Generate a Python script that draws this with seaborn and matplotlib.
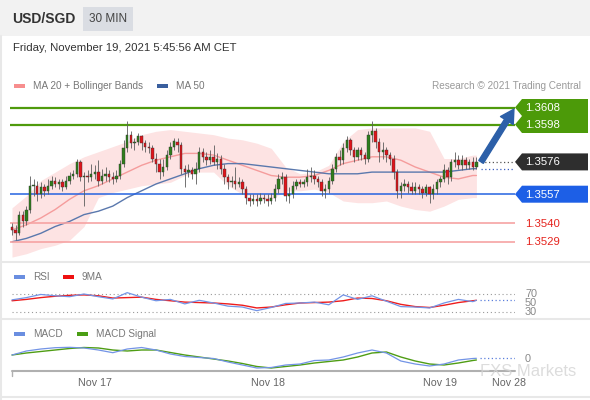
import numpy as np
import pandas as pd
import matplotlib
matplotlib.use("Agg")
import matplotlib.pyplot as plt
import seaborn as sns
from matplotlib.patches import Rectangle, Polygon

# --- candle data (30 min USD/SGD), Nov 16 12:30 -> Nov 19 05:00 ---
first_open = 1.3538
closes = [1.3536, 1.3534, 1.3545, 1.3541, 1.3548, 1.3562, 1.3562, 1.3557, 1.3561, 1.3559,
          1.3562, 1.3565, 1.3563, 1.3564, 1.3561, 1.3565, 1.3568, 1.3569, 1.3576, 1.3567,
          1.3568, 1.3567, 1.3569, 1.3570, 1.3565, 1.3568, 1.3569, 1.3567, 1.3566, 1.3568,
          1.3575, 1.3584, 1.3592, 1.3587, 1.3588, 1.3591, 1.3587, 1.3585, 1.3584, 1.3578,
          1.3575, 1.3570, 1.3573, 1.3580, 1.3585, 1.3588, 1.3586, 1.3572, 1.3570, 1.3571,
          1.3569, 1.3572, 1.3582, 1.3579, 1.3577, 1.3579, 1.3576, 1.3578, 1.3572, 1.3567,
          1.3564, 1.3565, 1.3563, 1.3564, 1.3560, 1.3555, 1.3553, 1.3554, 1.3553, 1.3555,
          1.3554, 1.3553, 1.3555, 1.3560, 1.3566, 1.3567, 1.3556, 1.3557, 1.3562, 1.3564,
          1.3563, 1.3564, 1.3567, 1.3568, 1.3566, 1.3564, 1.3559, 1.3560, 1.3565, 1.3572,
          1.3579, 1.3577, 1.3584, 1.3589, 1.3583, 1.3579, 1.3583, 1.3580, 1.3578, 1.3592,
          1.3594, 1.3588, 1.3582, 1.3583, 1.3580, 1.3578, 1.3570, 1.3559, 1.3562, 1.3563,
          1.3561, 1.3559, 1.3561, 1.3560, 1.3558, 1.3561, 1.3557, 1.3560, 1.3564, 1.3566,
          1.3571, 1.3567, 1.3576, 1.3577, 1.3574, 1.3577, 1.3574, 1.3576, 1.3573, 1.3576]
highs = [1.3540, 1.3539, 1.3547, 1.3547, 1.3550, 1.3568, 1.3566, 1.3565, 1.3564, 1.3563,
         1.3566, 1.3568, 1.3567, 1.3566, 1.3566, 1.3568, 1.3570, 1.3571, 1.3578, 1.3577,
         1.3570, 1.3571, 1.3575, 1.3574, 1.3577, 1.3572, 1.3573, 1.3571, 1.3570, 1.3571,
         1.3577, 1.3589, 1.3600, 1.3594, 1.3590, 1.3593, 1.3592, 1.3589, 1.3588, 1.3586,
         1.3581, 1.3578, 1.3578, 1.3583, 1.3588, 1.3590, 1.3590, 1.3588, 1.3574, 1.3575,
         1.3573, 1.3576, 1.3585, 1.3584, 1.3582, 1.3583, 1.3586, 1.3581, 1.3580, 1.3575,
         1.3569, 1.3568, 1.3573, 1.3567, 1.3566, 1.3562, 1.3557, 1.3557, 1.3557, 1.3558,
         1.3557, 1.3557, 1.3558, 1.3563, 1.3569, 1.3570, 1.3569, 1.3561, 1.3565, 1.3566,
         1.3566, 1.3566, 1.3572, 1.3573, 1.3571, 1.3568, 1.3566, 1.3563, 1.3567, 1.3575,
         1.3581, 1.3583, 1.3587, 1.3591, 1.3590, 1.3585, 1.3585, 1.3585, 1.3582, 1.3594,
         1.3600, 1.3596, 1.3590, 1.3588, 1.3585, 1.3582, 1.3580, 1.3572, 1.3564, 1.3566,
         1.3565, 1.3564, 1.3564, 1.3563, 1.3562, 1.3563, 1.3562, 1.3563, 1.3566, 1.3568,
         1.3575, 1.3573, 1.3578, 1.3582, 1.3580, 1.3580, 1.3579, 1.3578, 1.3579, 1.3579]
lows = [1.3533, 1.3530, 1.3533, 1.3538, 1.3539, 1.3546, 1.3556, 1.3553, 1.3555, 1.3556,
        1.3557, 1.3560, 1.3561, 1.3560, 1.3559, 1.3560, 1.3563, 1.3566, 1.3567, 1.3565,
        1.3550, 1.3564, 1.3565, 1.3566, 1.3562, 1.3563, 1.3565, 1.3564, 1.3563, 1.3564,
        1.3566, 1.3573, 1.3582, 1.3584, 1.3583, 1.3586, 1.3583, 1.3582, 1.3581, 1.3576,
        1.3570, 1.3566, 1.3568, 1.3571, 1.3578, 1.3583, 1.3582, 1.3569, 1.3561, 1.3567,
        1.3566, 1.3563, 1.3570, 1.3576, 1.3574, 1.3575, 1.3574, 1.3572, 1.3569, 1.3563,
        1.3560, 1.3561, 1.3560, 1.3561, 1.3557, 1.3551, 1.3550, 1.3551, 1.3550, 1.3551,
        1.3552, 1.3550, 1.3551, 1.3553, 1.3558, 1.3563, 1.3553, 1.3552, 1.3555, 1.3560,
        1.3561, 1.3561, 1.3562, 1.3564, 1.3563, 1.3561, 1.3556, 1.3555, 1.3558, 1.3563,
        1.3570, 1.3574, 1.3575, 1.3582, 1.3580, 1.3576, 1.3577, 1.3577, 1.3575, 1.3576,
        1.3588, 1.3584, 1.3576, 1.3578, 1.3576, 1.3574, 1.3566, 1.3555, 1.3555, 1.3559,
        1.3558, 1.3557, 1.3557, 1.3557, 1.3555, 1.3556, 1.3552, 1.3554, 1.3557, 1.3561,
        1.3564, 1.3563, 1.3565, 1.3573, 1.3572, 1.3571, 1.3572, 1.3572, 1.3571, 1.3572]

# --- indicators, read every 4th candle (plus the last one) ---
ind_idx = list(range(0, 129, 4)) + [129]
ma20 = [1.3536, 1.3539, 1.3543, 1.3548, 1.3554, 1.3559, 1.3562, 1.3566, 1.3570, 1.3574,
        1.3577, 1.3579, 1.3581, 1.3581, 1.3580, 1.3577, 1.3574, 1.3571, 1.3568, 1.3567,
        1.3567, 1.3568, 1.3571, 1.3575, 1.3577, 1.3579, 1.3579, 1.3577, 1.3573, 1.3570,
        1.3567, 1.3566, 1.3568, 1.3568]
bb_upper = [1.3549, 1.3556, 1.3565, 1.3570, 1.3575, 1.3579, 1.3582, 1.3585, 1.3588, 1.3592,
            1.3594, 1.3595, 1.3594, 1.3593, 1.3592, 1.3590, 1.3589, 1.3587, 1.3584, 1.3573,
            1.3569, 1.3570, 1.3574, 1.3588, 1.3595, 1.3596, 1.3596, 1.3596, 1.3596, 1.3594,
            1.3578, 1.3578, 1.3580, 1.3580]
bb_lower = [1.3520, 1.3522, 1.3525, 1.3527, 1.3530, 1.3538, 1.3555, 1.3558, 1.3560, 1.3562,
            1.3563, 1.3564, 1.3568, 1.3570, 1.3570, 1.3562, 1.3557, 1.3555, 1.3554, 1.3559,
            1.3559, 1.3560, 1.3558, 1.3553, 1.3552, 1.3552, 1.3553, 1.3550, 1.3548, 1.3547,
            1.3550, 1.3554, 1.3555, 1.3555]
ma50 = [1.3529, 1.3531, 1.3534, 1.3538, 1.3541, 1.3545, 1.3547, 1.3550, 1.3555, 1.3559,
        1.3563, 1.3566, 1.3569, 1.3572, 1.3574, 1.3575, 1.3575, 1.3574, 1.3573, 1.3572,
        1.3571, 1.3570, 1.3569, 1.3569, 1.3569, 1.3570, 1.3570, 1.3570, 1.3570, 1.3570,
        1.3570, 1.3571, 1.3572, 1.3572]
rsi = [57, 62, 69, 66, 64, 70, 64, 59, 73, 63, 55, 58, 48, 56, 50, 43, 41, 33, 40, 49,
       50, 52, 46, 68, 58, 66, 54, 42, 41, 39, 50, 58, 53, 56]
rsi_ma9 = [55, 58, 62, 65, 67, 68, 66, 61, 62, 63, 58, 55, 52, 51, 50, 48, 45, 39, 41, 46,
           50, 51, 52, 55, 61, 60, 55, 47, 42, 40, 45, 51, 55, 56]
macd = [0.40, 0.80, 1.00, 1.13, 1.17, 1.10, 0.90, 0.63, 1.00, 1.15, 0.90, 0.50, 0.25, 0.15,
        0.05, -0.30, -0.60, -0.90, -0.85, -0.60, -0.50, -0.15, -0.10, 0.20, 0.60, 0.90,
        0.60, -0.20, -0.50, -0.70, -0.50, -0.10, 0.05, 0.07]
macd_signal = [0.40, 0.60, 0.75, 0.90, 1.05, 1.15, 1.10, 0.90, 0.80, 0.90, 0.90, 0.65, 0.40,
               0.20, 0.00, -0.20, -0.45, -0.75, -0.90, -0.75, -0.60, -0.40, -0.25, -0.10,
               0.20, 0.60, 0.70, 0.20, -0.20, -0.50, -0.60, -0.40, -0.15, -0.10]

# key levels
resist = [1.3608, 1.3598]
pivot = 1.3557
supports = [1.3540, 1.3529]
last_price = 1.3576
target = 1.3607

tick_pos = [23, 71, 119, 138]
tick_labels = ["Nov 17", "Nov 18", "Nov 19", "Nov 28"]

sns.set_theme(style="white")
plt.rcParams["font.family"] = ["Liberation Sans", "DejaVu Sans"]

W, H = 590, 400
fig = plt.figure(figsize=(W / 100, H / 100), dpi=100)
fig.patch.set_facecolor("white")


def px_axes(left, top, right, bottom, z=1):
    a = fig.add_axes([left / W, 1 - bottom / H, (right - left) / W, (bottom - top) / H], zorder=z)
    a.set_facecolor("none")
    return a


bg = px_axes(0, 0, W, H, z=0)
bg.set_xlim(0, W); bg.set_ylim(H, 0); bg.axis("off")
bg.add_patch(Rectangle((0, 0), W, 36, color="#f2f2f2", lw=0))
bg.add_patch(Rectangle((83, 7), 50, 24, color="#dadde3", lw=0))
for yy in (262, 319, 397):
    bg.plot([0, W], [yy, yy], color="#e8e8e8", lw=1.5)
bg.plot([1, 1], [36, H], color="#e8e8e8", lw=1.5)

x0, x1 = (10 - 12) / 3.6, (515 - 12) / 3.6
idx = np.arange(len(closes))
opens = [first_open] + closes[:-1]

# ---------------- price panel ----------------
ax = px_axes(10, 92, 515, 261)
ax.set_xlim(x0, x1)
ax.set_ylim(1.3608 - 153.5 / 17000, 1.3608 + 15.5 / 17000)
ax.axis("off")

ax.fill_between(ind_idx, bb_lower, bb_upper, color="#fde3e3", lw=0, zorder=1)
sns.lineplot(x=ind_idx, y=ma20, ax=ax, color="#f59c9c", linewidth=1, legend=False, zorder=2)
sns.lineplot(x=ind_idx, y=ma50, ax=ax, color="#5a78ad", linewidth=1, legend=False, zorder=2)

for lv in resist:
    ax.axhline(lv, color="#4f9a0c", lw=1.6, zorder=3)
ax.axhline(pivot, color="#2563e0", lw=1.1, zorder=3)
for lv in supports:
    ax.axhline(lv, color="#f6a3a3", lw=1.2, zorder=3)

o = np.array(opens); c = np.array(closes)
up = c >= o
ax.vlines(idx, lows, highs, color="#5c5c5c", lw=0.6, zorder=4)
ax.bar(idx, np.maximum(np.abs(c - o), 0.00004), bottom=np.minimum(o, c), width=0.72,
       color=np.where(up, "#2f7f1c", "#e0141b"), edgecolor="#333333", linewidth=0.3, zorder=5)

ax.hlines(last_price, idx[-1] + 1.3, x1, color="#555555", lw=0.9, linestyles=(0, (1, 2)), zorder=3)
ax.hlines(ma50[-1], idx[-1] + 1.3, x1, color="#3b5fc0", lw=0.9, linestyles=(0, (1, 2)), zorder=3)
ax.annotate("", xy=(x1 - 0.3, target), xytext=(idx[-1] + 1.3, last_price),
            arrowprops=dict(arrowstyle="simple,tail_width=0.32,head_width=0.9,head_length=0.8",
                            color="#2c5fa8", mutation_scale=12, shrinkA=0, shrinkB=0), zorder=6)

# ---------------- RSI panel ----------------
ax_rsi = px_axes(10, 262, 515, 318)
ax_rsi.set_xlim(x0, x1)
ax_rsi.set_ylim(70 - 24 / 0.45, 70 + 32 / 0.45)
ax_rsi.axis("off")
for lv in (70, 30):
    ax_rsi.hlines(lv, 0, x1, color="#9a9a9a", lw=0.8, linestyles=(0, (1, 2.5)))
sns.lineplot(x=ind_idx, y=rsi_ma9, ax=ax_rsi, color="#ee1c1c", linewidth=1, legend=False)
sns.lineplot(x=ind_idx, y=rsi, ax=ax_rsi, color="#7394e6", linewidth=0.9, legend=False)
ax_rsi.hlines(rsi[-1], idx[-1] + 1, x1, color="#5b7fdc", lw=0.9, linestyles=(0, (1, 2)))

# ---------------- MACD panel ----------------
ax_macd = px_axes(10, 320, 515, 371)
ax_macd.set_xlim(x0, x1)
ax_macd.set_ylim(-1.2, 3.9)
ax_macd.axis("off")
sns.lineplot(x=ind_idx, y=macd_signal, ax=ax_macd, color="#4f9d14", linewidth=1, legend=False)
sns.lineplot(x=ind_idx, y=macd, ax=ax_macd, color="#7394e6", linewidth=0.9, legend=False)
ax_macd.hlines(macd[-1], idx[-1] + 1, x1, color="#5b7fdc", lw=0.9, linestyles=(0, (1, 2)))

# ---------------- overlay: texts, tags, axis ----------------
fg = px_axes(0, 0, W, H, z=5)
fg.set_xlim(0, W); fg.set_ylim(H, 0); fg.axis("off")


def py(a, val):
    disp = a.transData.transform((0, val))
    return fg.transData.inverted().transform(disp)[1]


def tag(val, label, color):
    y = py(ax, val)
    fg.add_patch(Polygon([(515, y), (522, y - 8.5), (588, y - 8.5), (588, y + 8.5), (522, y + 8.5)],
                         closed=True, color=color, lw=0))
    fg.text(525, y + 0.5, label, color="white", fontsize=8.2, va="center", ha="left")


for lv in resist:
    tag(lv, f"{lv:.4f}", "#4c9a09")
tag(last_price, f"{last_price:.4f}", "#2e2e2e")
tag(pivot, f"{pivot:.4f}", "#1d5fe6")
for lv in supports:
    fg.text(525, py(ax, lv) + 0.5, f"{lv:.4f}", color="#e5231d", fontsize=8.2, va="center")

for lv in (70, 50, 30):
    fg.text(525, py(ax_rsi, lv), str(lv), color="#888888", fontsize=7.8, va="center")
fg.text(525, py(ax_macd, 0), "0", color="#888888", fontsize=7.8, va="center")

fg.text(12, 19, "USD/SGD", fontsize=10, fontweight="bold", color="#333333", va="center")
fg.text(108, 19.5, "30 MIN", fontsize=8.5, color="#444444", va="center", ha="center")
fg.text(13, 48, "Friday, November 19, 2021 5:45:56 AM CET", fontsize=8.2, color="#333333", va="center")


def legend_item(x, y, color, label):
    fg.add_patch(Rectangle((x, y - 2), 11, 4, color=color, lw=0))
    fg.text(x + 19, y, label, fontsize=7.2, color="#777777", va="center")


legend_item(14, 86, "#f78e8e", "MA 20 + Bollinger Bands")
legend_item(157, 86, "#3a5f9e", "MA 50")
fg.text(581, 86, "Research \u00a9 2021 Trading Central", fontsize=7.2, color="#9a9a9a", va="center", ha="right")
legend_item(14, 277, "#6a8ee0", "RSI")
legend_item(63, 277, "#ee1111", "9MA")
legend_item(14, 334, "#6a8ee0", "MACD")
legend_item(77, 334, "#4a9e14", "MACD Signal")

# time axis
fg.plot([12, 515], [371, 371], color="#b0b0b0", lw=1.5)
fg.plot([12, 12], [371, 376], color="#b0b0b0", lw=1)
for p, lab in zip(tick_pos, tick_labels):
    xp = ax.transData.transform((p, 0))[0]
    xp = fg.transData.inverted().transform((xp, 0))[0]
    fg.text(xp, 383, lab, fontsize=7.7, color="#666666", ha="center", va="center")
fg.text(528, 371, "FXS Markets", fontsize=12, color="#d4d4d4", ha="center", va="center", alpha=0.8)

fig.savefig("out.png", dpi=100)
